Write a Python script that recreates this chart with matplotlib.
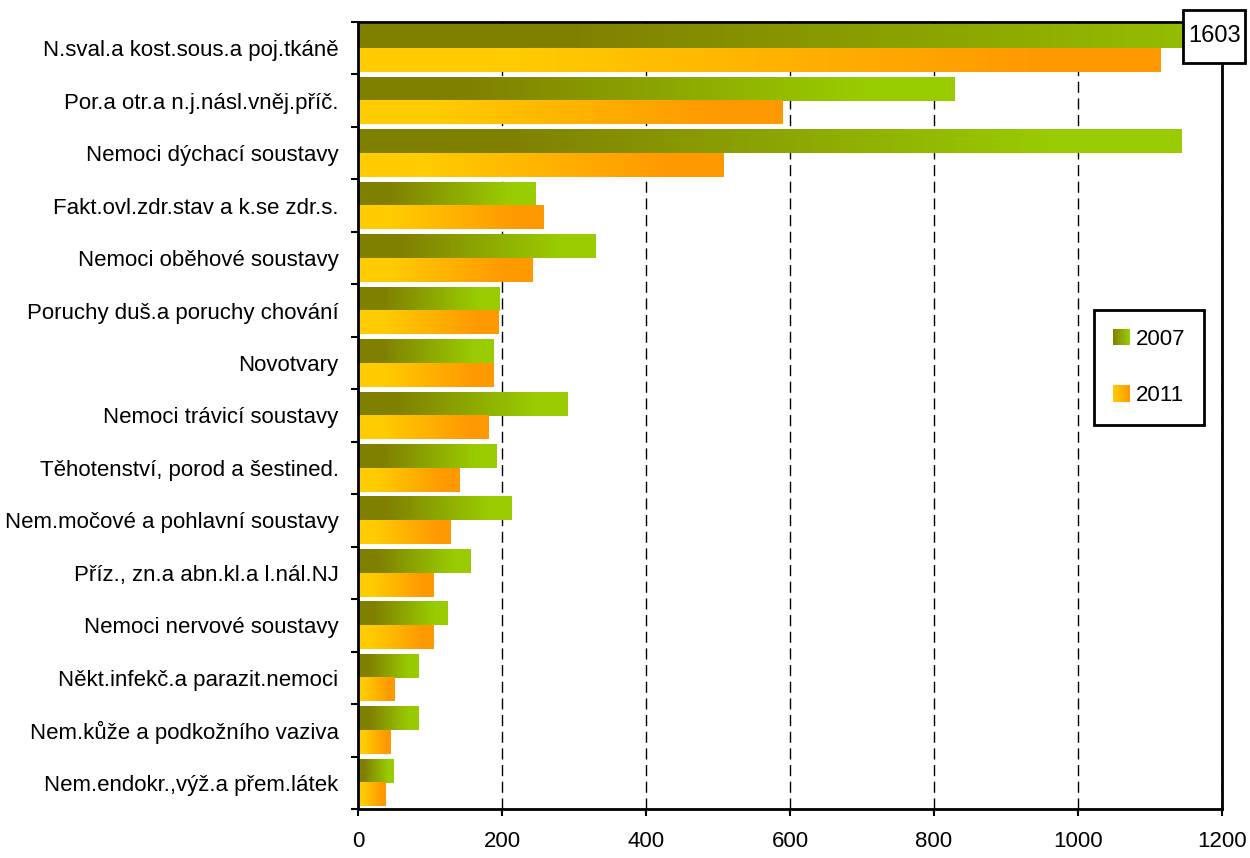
import matplotlib
matplotlib.use('Agg')
import matplotlib.pyplot as plt
import numpy as np
from matplotlib import font_manager
from matplotlib.patches import Rectangle
from matplotlib.legend_handler import HandlerBase
from matplotlib.path import Path
from matplotlib.colors import LinearSegmentedColormap

categories = [
    "N.sval.a kost.sous.a poj.tkáně",
    "Por.a otr.a n.j.násl.vněj.příč.",
    "Nemoci dýchací soustavy",
    "Fakt.ovl.zdr.stav a k.se zdr.s.",
    "Nemoci oběhové soustavy",
    "Poruchy duš.a poruchy chování",
    "Novotvary",
    "Nemoci trávicí soustavy",
    "Těhotenství, porod a šestined.",
    "Nem.močové a pohlavní soustavy",
    "Příz., zn.a abn.kl.a l.nál.NJ",
    "Nemoci nervové soustavy",
    "Někt.infekč.a parazit.nemoci",
    "Nem.kůže a podkožního vaziva",
    "Nem.endokr.,výž.a přem.látek",
]
values_2007 = [1603, 829, 1144, 247, 330, 197, 188, 291, 192, 213, 156, 124, 84, 84, 49]
values_2011 = [1115, 589, 508, 258, 243, 195, 188, 181, 141, 129, 105, 105, 51, 45, 38]
series_labels = ["2007", "2011"]
x_ticks = [0, 200, 400, 600, 800, 1000, 1200]

names = {f.name for f in font_manager.fontManager.ttflist}
if 'Liberation Sans Narrow' in names:
    FAMILY = 'Liberation Sans Narrow'
    FS = 19
else:
    FAMILY = 'Liberation Sans'
    FS = 16
plt.rcParams['font.family'] = [FAMILY, 'DejaVu Sans']
plt.rcParams['axes.linewidth'] = 2

fig = plt.figure(figsize=(12.5, 8.58), dpi=100)
ax = fig.add_axes([358/1250, 1-809/858, 864/1250, 787/858])

green_bar = LinearSegmentedColormap.from_list('gb', [(0, '#808000'), (0.18, '#808000'), (0.85, '#99CC00'), (1, '#99CC00')])
orange_bar = LinearSegmentedColormap.from_list('ob', [(0, '#FFCC00'), (0.18, '#FFCC00'), (0.85, '#FF9900'), (1, '#FF9900')])
green_leg = LinearSegmentedColormap.from_list('gl', ['#808000', '#99CC00'])
orange_leg = LinearSegmentedColormap.from_list('ol', ['#FFCC00', '#FF9900'])

y = np.arange(len(categories))
h = 0.45
bars07 = ax.barh(y - h/2, values_2007, height=h, color='none', edgecolor='none')
bars11 = ax.barh(y + h/2, values_2011, height=h, color='none', edgecolor='none')
grad = np.linspace(0, 1, 256).reshape(1, -1)
for bars, cmap in ((bars07, green_bar), (bars11, orange_bar)):
    for b in bars:
        x0, y0, w, hh = b.get_x(), b.get_y(), b.get_width(), b.get_height()
        ax.imshow(grad, cmap=cmap, extent=(x0, x0 + w, y0 + hh, y0), aspect='auto',
                  interpolation='bilinear', zorder=2)

ax.set_xlim(0, 1200)
ax.set_ylim(len(categories) - 0.5, -0.5)
ax.set_aspect('auto')

ax.set_xticks(x_ticks)
ax.set_xticklabels([str(t) for t in x_ticks], fontsize=FS)
ax.tick_params(axis='x', direction='out', length=5, width=1.5, pad=11)
ax.set_yticks(np.arange(len(categories) + 1) - 0.5)
ax.set_yticklabels([])
ax.set_yticks(y, minor=True)
ax.set_yticklabels(categories, minor=True, fontsize=FS)
ax.tick_params(axis='y', which='major', direction='out', length=5, width=1.5)
ax.tick_params(axis='y', which='minor', length=0, pad=14)

ax.set_axisbelow(True)
ax.xaxis.grid(True, linestyle=(0, (8, 4)), color='black', linewidth=1)
for s in ax.spines.values():
    s.set_color('black')
    s.set_linewidth(2)


class GradHandler(HandlerBase):
    def __init__(self, cmap):
        super().__init__()
        self.cmap = cmap

    def create_artists(self, legend, orig_handle, xdescent, ydescent, width, height, fontsize, trans):
        n = 24
        arts = []
        side = min(width, height)
        for i in range(n):
            r = Rectangle((-xdescent + side * i / n, -ydescent + (height - side) / 2), side / n * 1.1, side,
                          facecolor=self.cmap((i + 0.5) / n), edgecolor='none', transform=trans)
            arts.append(r)
        return arts


h1 = Rectangle((0, 0), 1, 1)
h2 = Rectangle((0, 0), 1, 1)
leg = fig.legend([h1, h2], series_labels, handler_map={h1: GradHandler(green_leg), h2: GradHandler(orange_leg)},
                 loc='upper left', bbox_to_anchor=(1094/1250, 1 - 310/858), bbox_transform=fig.transFigure,
                 borderaxespad=0, fontsize=FS, frameon=True, fancybox=False, framealpha=1,
                 borderpad=0.85, labelspacing=1.6, handlelength=0.77, handleheight=0.77, handletextpad=0.27)
leg.get_frame().set_edgecolor('black')
leg.get_frame().set_linewidth(2)


def label_box(x0, y0, width, height, mutation_size):
    px = 0.2 * mutation_size
    py = 0.64 * mutation_size
    x0, y0 = x0 - px, y0 - py
    x1, y1 = x0 + width + 2 * px, y0 + height + 2 * py
    return Path([(x0, y0), (x1, y0), (x1, y1), (x0, y1), (x0, y0)], closed=True)


ax.text(0.991, y[0] - h/2, str(values_2007[0]), transform=ax.get_yaxis_transform(),
        ha='center', va='center', fontsize=FS + 1, clip_on=False, zorder=10,
        bbox=dict(boxstyle=label_box, facecolor='white', edgecolor='black', linewidth=2))

fig.savefig('out.png', dpi=100)
